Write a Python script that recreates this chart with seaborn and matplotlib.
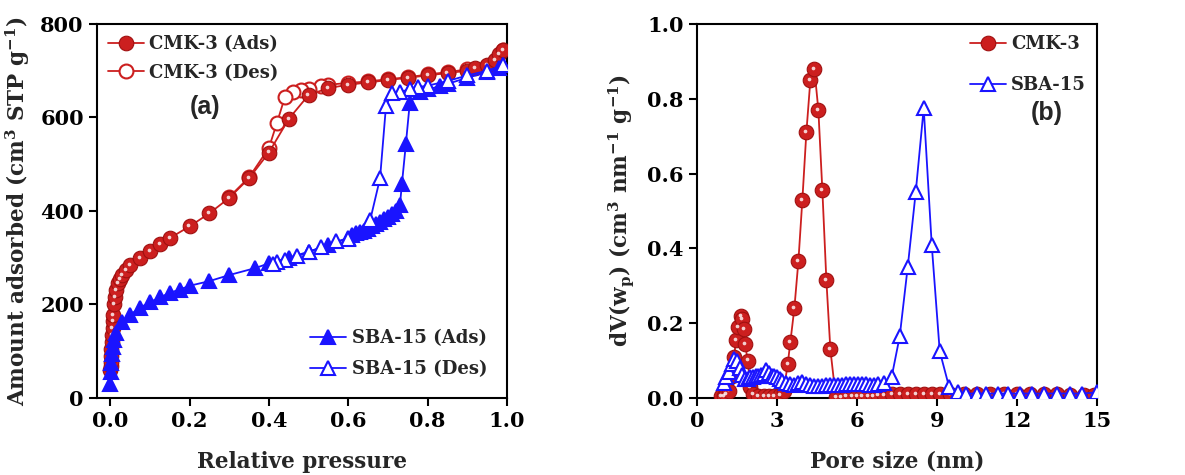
"""
Recreate N2 isotherms (a) and pore size distributions (b) for CMK-3 and SBA-15.
"""

import matplotlib
matplotlib.use("Agg")
import matplotlib.pyplot as plt
import matplotlib.transforms as mtransforms
import pandas as pd
import seaborn as sns

# ---- (a) isotherm data ----
cmk_ads_p = [0.0005, 0.001, 0.0015, 0.002, 0.003, 0.004, 0.005, 0.006, 0.007, 0.008,
             0.01, 0.012, 0.015, 0.02, 0.025, 0.03, 0.04, 0.05, 0.075, 0.1, 0.125, 0.15,
             0.2, 0.25, 0.3, 0.35, 0.4, 0.45, 0.5, 0.55, 0.6, 0.65, 0.7, 0.75, 0.8, 0.85,
             0.9, 0.92, 0.95, 0.97, 0.98, 0.99]
cmk_ads_v = [60, 68, 78, 90, 105, 120, 135, 150, 165, 178,
             200, 215, 230, 245, 255, 263, 273, 285, 300, 315, 330, 342,
             367, 395, 428, 470, 525, 597, 648, 663, 670, 675, 680, 685, 690, 695,
             700, 705, 712, 722, 735, 745]
cmk_des_p = [0.99, 0.97, 0.95, 0.9, 0.85, 0.8, 0.75, 0.7, 0.65, 0.6, 0.55, 0.53, 0.5,
             0.48, 0.46, 0.44, 0.42, 0.4, 0.35, 0.3]
cmk_des_v = [745, 720, 710, 703, 697, 692, 686, 682, 677, 674, 670, 667, 662,
             658, 655, 643, 588, 535, 472, 430]

sba_ads_p = [0.0, 0.001, 0.002, 0.004, 0.006, 0.01, 0.015, 0.03, 0.05, 0.075, 0.1,
             0.125, 0.15, 0.175, 0.2, 0.25, 0.3, 0.366, 0.4, 0.45, 0.5, 0.55, 0.6,
             0.61, 0.62, 0.63, 0.64, 0.65, 0.66, 0.67, 0.68, 0.69, 0.7, 0.71, 0.72,
             0.73, 0.735, 0.745, 0.755, 0.78, 0.8, 0.83, 0.85, 0.9, 0.95, 0.98, 0.99]
sba_ads_v = [30, 55, 75, 95, 110, 125, 140, 163, 178, 193, 205,
             215, 225, 232, 240, 250, 263, 278, 288, 300, 313, 327, 343,
             348, 352, 355, 358, 362, 367, 372, 377, 382, 388, 393, 400,
             412, 457, 543, 632, 655, 660, 667, 672, 685, 697, 705, 712]
sba_des_p = [0.99, 0.95, 0.9, 0.85, 0.8, 0.775, 0.755, 0.73, 0.71, 0.695, 0.68,
             0.655, 0.6, 0.57, 0.53, 0.5, 0.47, 0.44, 0.42, 0.41]
sba_des_v = [712, 700, 690, 678, 668, 665, 660, 655, 652, 625, 470,
             380, 340, 335, 322, 312, 303, 296, 291, 287]

# ---- (b) pore size distribution data ----
cmk_psd_w = [0.9, 1.0, 1.1, 1.2, 1.3, 1.4, 1.45, 1.55, 1.65, 1.7, 1.75, 1.8, 1.9, 2.0,
             2.1, 2.3, 2.5, 2.7, 2.9, 3.1, 3.25, 3.4, 3.5, 3.65, 3.8, 3.95, 4.1, 4.25,
             4.4, 4.55, 4.7, 4.85, 5.0, 5.2, 5.4, 5.6, 5.8, 6.0, 6.2, 6.4, 6.6, 6.8,
             7.0, 7.3, 7.6, 7.9, 8.2, 8.5, 8.8, 9.1, 9.5, 10.0, 10.5, 11.0, 11.5,
             12.0, 12.5, 13.0, 13.5, 14.0, 14.5, 14.9]
cmk_psd_dv = [0.005, 0.005, 0.01, 0.02, 0.06, 0.11, 0.155, 0.19, 0.22, 0.21, 0.185,
              0.145, 0.1, 0.03, 0.01, 0.005, 0.005, 0.005, 0.005, 0.008, 0.02, 0.09,
              0.15, 0.24, 0.365, 0.53, 0.71, 0.85, 0.88, 0.77, 0.555, 0.315, 0.13,
              0.003, 0.003, 0.004, 0.004, 0.005, 0.005, 0.006, 0.006, 0.007, 0.008,
              0.01, 0.01, 0.01, 0.01, 0.01, 0.01, 0.01, 0.01, 0.01, 0.01, 0.01, 0.01,
              0.01, 0.01, 0.01, 0.01, 0.008, 0.008, 0.008]
sba_psd_w = [1.0, 1.1, 1.2, 1.3, 1.4, 1.5, 1.6, 1.7, 1.8, 1.9, 2.0, 2.1, 2.2, 2.3, 2.4,
             2.5, 2.6, 2.7, 2.8, 2.9, 3.0, 3.1, 3.2, 3.35, 3.5, 3.65, 3.8, 3.95, 4.1,
             4.25, 4.4, 4.55, 4.7, 4.85, 5.0, 5.15, 5.3, 5.45, 5.6, 5.75, 5.9, 6.05,
             6.2, 6.35, 6.5, 6.65, 6.8, 7.0, 7.3, 7.6, 7.9, 8.2, 8.5, 8.8, 9.1, 9.45,
             9.8, 10.1, 10.5, 10.85, 11.3, 11.65, 12.1, 12.55, 13.0, 13.5, 14.0,
             14.45, 15.0]
sba_psd_dv = [0.04, 0.055, 0.07, 0.09, 0.105, 0.1, 0.08, 0.062, 0.052, 0.05, 0.055,
              0.057, 0.058, 0.06, 0.062, 0.065, 0.075, 0.066, 0.06, 0.058, 0.055,
              0.05, 0.045, 0.04, 0.038, 0.036, 0.04, 0.042, 0.038, 0.035, 0.033,
              0.032, 0.033, 0.035, 0.036, 0.036, 0.036, 0.036, 0.037, 0.037, 0.037,
              0.037, 0.037, 0.037, 0.036, 0.036, 0.038, 0.04, 0.057, 0.165, 0.35,
              0.55, 0.775, 0.41, 0.125, 0.03, 0.015, 0.012, 0.012, 0.012, 0.012,
              0.012, 0.012, 0.012, 0.012, 0.012, 0.012, 0.012, 0.015]

RED = "#cc1f1f"
RED_EDGE = "#a01010"
BLUE = "#1a14ff"

sns.set_style("ticks")
plt.rcParams.update({
    "font.family": ["DejaVu Serif"],
    "font.weight": "bold",
    "axes.labelweight": "bold",
    "mathtext.fontset": "custom",
    "mathtext.bf": "DejaVu Serif:bold",
    "mathtext.rm": "DejaVu Serif:bold",
    "mathtext.default": "bf",
    "axes.linewidth": 1.5,
    "xtick.major.width": 1.5,
    "ytick.major.width": 1.5,
    "xtick.major.size": 6,
    "ytick.major.size": 6,
    "xtick.direction": "out",
    "ytick.direction": "out",
})


def sphere_series(ax, x, y, label, zorder=3):
    """Red 'shaded sphere' markers: solid circle plus a small white highlight."""
    df = pd.DataFrame({"x": x, "y": y})
    sns.lineplot(data=df, x="x", y="y", ax=ax, sort=False, estimator=None,
                 color=RED, lw=1.3, marker="o", markersize=10.5,
                 markerfacecolor=RED, markeredgecolor=RED_EDGE, markeredgewidth=0.8,
                 label=label, zorder=zorder)
    off = mtransforms.offset_copy(ax.transData, fig=ax.figure, x=-0.8, y=0.8, units="points")
    ax.scatter(df["x"], df["y"], s=7, color="white", alpha=0.8, linewidths=0,
               transform=off, zorder=zorder + 0.1)


def open_series(ax, x, y, color, marker, label, zorder=2, ms=9, filled=False):
    df = pd.DataFrame({"x": x, "y": y})
    sns.lineplot(data=df, x="x", y="y", ax=ax, sort=False, estimator=None,
                 color=color, lw=1.3, marker=marker, markersize=ms,
                 markerfacecolor=color if filled else "white",
                 markeredgecolor=color, markeredgewidth=1.5,
                 label=label, zorder=zorder)


fig = plt.figure(figsize=(11.85, 4.75), dpi=100)
ax1 = fig.add_axes([0.0819, 0.1621, 0.3460, 0.7874])
ax2 = fig.add_axes([0.5882, 0.1621, 0.3376, 0.7874])

# ---- panel (a) ----
open_series(ax1, cmk_des_p, cmk_des_v, RED, "o", "CMK-3 (Des)", zorder=2, ms=10)
sphere_series(ax1, cmk_ads_p, cmk_ads_v, "CMK-3 (Ads)", zorder=3)
open_series(ax1, sba_ads_p, sba_ads_v, BLUE, "^", "SBA-15 (Ads)", zorder=4, ms=10, filled=True)
open_series(ax1, sba_des_p, sba_des_v, BLUE, "^", "SBA-15 (Des)", zorder=5, ms=10)

ax1.set_xlim(-0.033, 1.0)
ax1.set_ylim(0, 800)
ax1.set_xticks([0.0, 0.2, 0.4, 0.6, 0.8, 1.0])
ax1.set_xticklabels(["0.0", "0.2", "0.4", "0.6", "0.8", "1.0"])
ax1.set_yticks([0, 200, 400, 600, 800])
ax1.set_xlabel("Relative pressure", fontsize=15.5, labelpad=14)
ax1.set_ylabel(r"Amount adsorbed (cm$^3$ STP g$^{-1}$)", fontsize=15.5, labelpad=6)
ax1.text(0.263, 0.778, "(a)", transform=ax1.transAxes, fontsize=18, fontweight="bold",
         family="Liberation Sans", ha="center", va="center")

handles, labels = ax1.get_legend_handles_labels()
hmap = dict(zip(labels, handles))
leg1 = ax1.legend([hmap["CMK-3 (Ads)"], hmap["CMK-3 (Des)"]], ["CMK-3 (Ads)", "CMK-3 (Des)"],
                  loc="upper left", frameon=False, fontsize=13, handlelength=2.0,
                  handletextpad=0.3, borderaxespad=0.2, labelspacing=0.6)
ax1.add_artist(leg1)
ax1.legend([hmap["SBA-15 (Ads)"], hmap["SBA-15 (Des)"]], ["SBA-15 (Ads)", "SBA-15 (Des)"],
           loc="lower right", frameon=False, fontsize=13, handlelength=2.0,
           handletextpad=0.3, borderaxespad=0.7, labelspacing=0.7)

# ---- panel (b) ----
sphere_series(ax2, cmk_psd_w, cmk_psd_dv, "CMK-3", zorder=3)
open_series(ax2, sba_psd_w, sba_psd_dv, BLUE, "^", "SBA-15", zorder=4, ms=10)

ax2.set_xlim(0, 15)
ax2.set_ylim(0, 1.0)
ax2.set_xticks([0, 3, 6, 9, 12, 15])
ax2.set_yticks([0.0, 0.2, 0.4, 0.6, 0.8, 1.0])
ax2.set_yticklabels(["0.0", "0.2", "0.4", "0.6", "0.8", "1.0"])
ax2.set_xlabel("Pore size (nm)", fontsize=15.5, labelpad=14)
ax2.set_ylabel(r"dV(w$_p$) (cm$^3$ nm$^{-1}$ g$^{-1}$)", fontsize=15.5, labelpad=8)
ax2.text(0.875, 0.762, "(b)", transform=ax2.transAxes, fontsize=18, fontweight="bold",
         family="Liberation Sans", ha="center", va="center")
ax2.legend(loc="upper right", frameon=False, fontsize=13, handlelength=2.0,
           handletextpad=0.3, borderaxespad=0.2, labelspacing=1.3)

for ax in (ax1, ax2):
    for side in ("top", "right", "left", "bottom"):
        ax.spines[side].set_visible(True)
        ax.spines[side].set_color("black")
    ax.tick_params(labelsize=15, top=False, right=False, colors="black")
    for lab in ax.get_xticklabels() + ax.get_yticklabels():
        lab.set_fontweight("bold")

fig.savefig("out.png", dpi=100)
plt.close(fig)
